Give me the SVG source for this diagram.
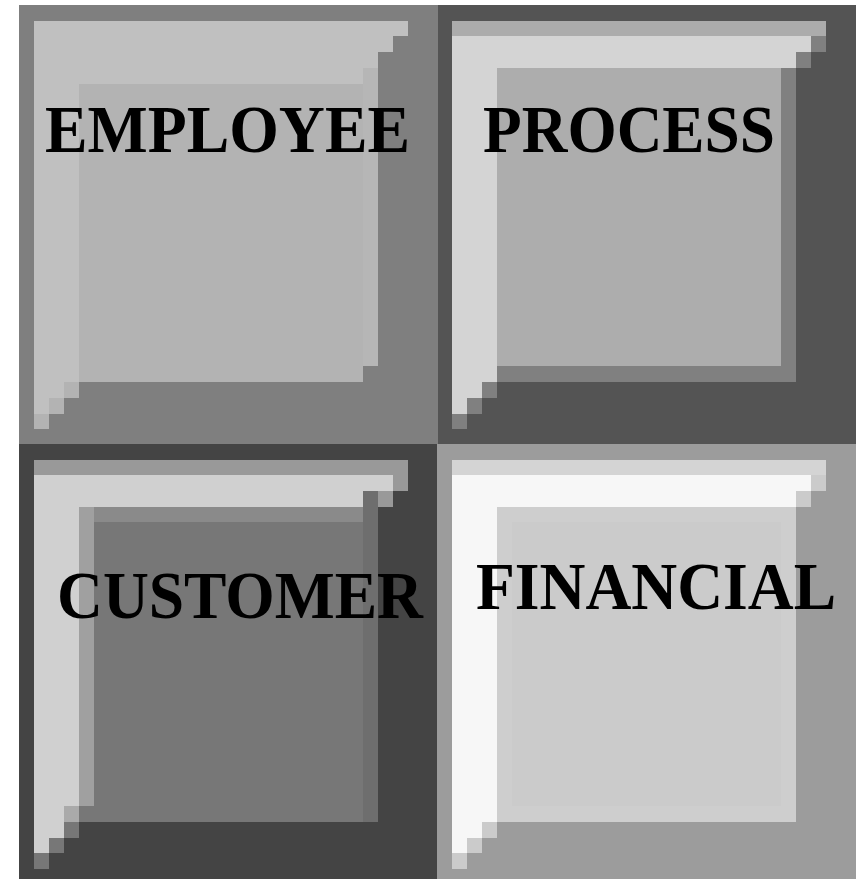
<svg xmlns="http://www.w3.org/2000/svg" width="861" height="879" viewBox="0 0 861 879">
<style>
text{font-family:"Liberation Serif","Times New Roman",serif;font-weight:bold;font-size:68px;fill:#000}
</style>
<rect width="861" height="879" fill="#ffffff"/>
<g id="employee">
<rect x="19" y="5" width="419" height="439" fill="#7f7f7f"/>
<polygon points="34,21 408,21 408,36 393,36 393,52 378,52 378,68 363,68 363,84 79,84 79,382 64,382 64,398 49,398 49,414 34,414" fill="#c0c0c0"/>
<rect x="79" y="84" width="284" height="298" fill="#b3b3b3"/>
<rect x="363" y="68" width="15" height="298" fill="#b6b6b6"/>
<rect x="64" y="382" width="15" height="16" fill="#b3b3b3"/>
<rect x="49" y="398" width="15" height="16" fill="#b3b3b3"/>
<rect x="34" y="414" width="15" height="15" fill="#b3b3b3"/>
<text x="45" y="152" textLength="365" lengthAdjust="spacingAndGlyphs">EMPLOYEE</text>
</g>
<g id="process">
<rect x="438" y="5" width="418" height="439" fill="#545454"/>
<rect x="452" y="21" width="374" height="15" fill="#acacac"/>
<polygon points="452,36 811,36 811,52 796,52 796,68 497,68 497,382 482,382 482,398 467,398 467,414 452,414" fill="#d4d4d4"/>
<rect x="497" y="68" width="284" height="298" fill="#adadad"/>
<rect x="781" y="68" width="15" height="314" fill="#808080"/>
<rect x="497" y="366" width="299" height="16" fill="#808080"/>
<rect x="811" y="36" width="15" height="16" fill="#808080"/>
<rect x="796" y="52" width="15" height="16" fill="#808080"/>
<rect x="482" y="382" width="15" height="16" fill="#808080"/>
<rect x="467" y="398" width="15" height="16" fill="#808080"/>
<rect x="452" y="414" width="15" height="15" fill="#808080"/>
<text x="483" y="152" textLength="292" lengthAdjust="spacingAndGlyphs">PROCESS</text>
</g>
<g id="customer">
<rect x="19" y="444" width="418" height="435" fill="#444444"/>
<rect x="34" y="460" width="374" height="15" fill="#999999"/>
<polygon points="34,475 393,475 393,491 378,491 378,507 79,507 79,806 64,806 64,838 49,838 49,853 34,853" fill="#d0d0d0"/>
<rect x="393" y="475" width="15" height="16" fill="#999999"/>
<rect x="378" y="491" width="15" height="16" fill="#999999"/>
<rect x="79" y="507" width="284" height="315" fill="#777777"/>
<rect x="79" y="507" width="284" height="15" fill="#8a8a8a"/>
<rect x="79" y="507" width="15" height="299" fill="#a0a0a0"/>
<rect x="363" y="491" width="15" height="331" fill="#6e6e6e"/>
<rect x="64" y="806" width="15" height="16" fill="#aaaaaa"/>
<rect x="64" y="822" width="15" height="16" fill="#777777"/>
<rect x="49" y="838" width="15" height="15" fill="#777777"/>
<rect x="34" y="853" width="15" height="16" fill="#777777"/>
<text x="57" y="618" textLength="366" lengthAdjust="spacingAndGlyphs">CUSTOMER</text>
</g>
<g id="financial">
<rect x="437" y="444" width="419" height="435" fill="#9c9c9c"/>
<rect x="452" y="460" width="374" height="15" fill="#d4d4d4"/>
<polygon points="452,475 811,475 811,491 796,491 796,507 497,507 497,822 482,822 482,838 467,838 467,853 452,853" fill="#f7f7f7"/>
<rect x="497" y="507" width="299" height="315" fill="#cecece"/>
<rect x="512" y="522" width="269" height="284" fill="#cbcbcb"/>
<rect x="811" y="475" width="15" height="16" fill="#cbcbcb"/>
<rect x="796" y="491" width="15" height="16" fill="#cbcbcb"/>
<rect x="482" y="822" width="15" height="16" fill="#cbcbcb"/>
<rect x="467" y="838" width="15" height="15" fill="#cbcbcb"/>
<rect x="452" y="853" width="15" height="16" fill="#cbcbcb"/>
<text x="476" y="609" textLength="360" lengthAdjust="spacingAndGlyphs">FINANCIAL</text>
</g>
<g id="connectors"></g>
</svg>
